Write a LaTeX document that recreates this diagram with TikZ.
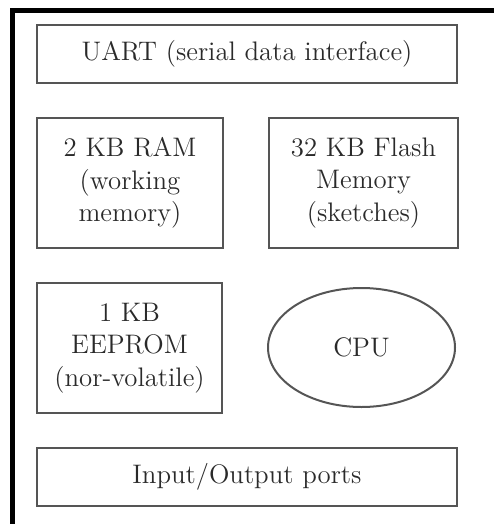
\documentclass[tikz,border=0pt]{standalone}
\usetikzlibrary{shapes.geometric}
\definecolor{boxgray}{HTML}{555555}
\definecolor{textgray}{HTML}{2A2A2A}
\tikzset{
  block/.style={draw=boxgray, line width=1pt, rectangle, align=center,
    text=textgray, font=\fontsize{13.4}{16.2}\selectfont, inner sep=0pt},
  cpublock/.style={block, ellipse},
  frame/.style={line width=2.6pt, black}
}
\begin{document}
\begin{tikzpicture}[x=0.5pt, y=-0.5pt]
      \useasboundingbox (0,0) rectangle (494,524);
      \draw[frame] (12.5,524) -- (12.5,10.5) -- (494,10.5);
      \node[block, minimum width=210pt, minimum height=29pt] (uart) at (247,54) {UART (serial data interface)};
      \node[block, minimum width=93pt, minimum height=65pt] (ram) at (130,183) {2 KB RAM\\(working\\memory)};
      \node[block, minimum width=94.5pt, minimum height=65pt] (flash) at (363.5,183) {32 KB Flash\\Memory\\(sketches)};
      \node[block, minimum width=92.5pt, minimum height=65pt] (eeprom) at (129.5,348) {1 KB\\EEPROM\\(nor-volatile)};
      \node[cpublock, minimum width=93.5pt, minimum height=59.5pt] (cpu) at (361.5,347.5) {CPU};
      \node[block, minimum width=210pt, minimum height=29pt] (io) at (247,477) {Input/Output ports};
    \end{tikzpicture}
\end{document}
